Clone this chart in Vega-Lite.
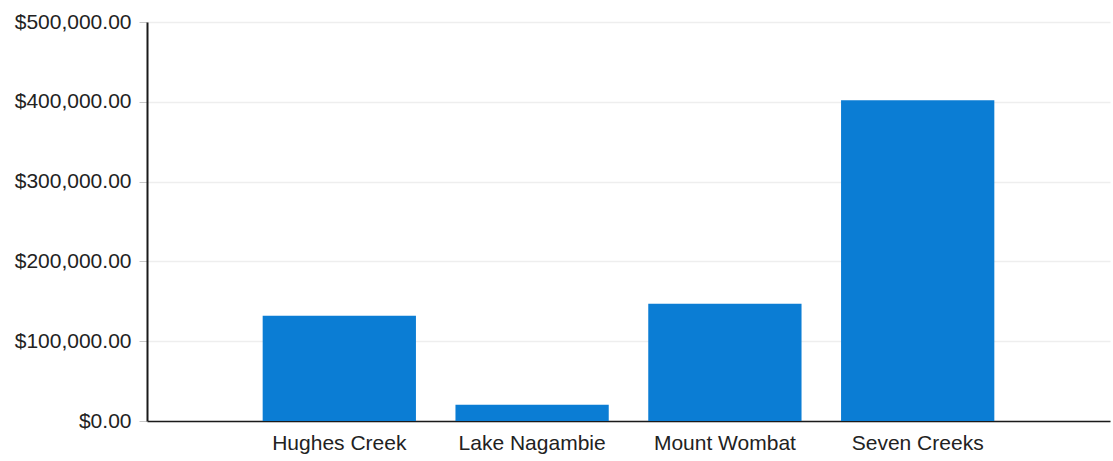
{
  "$schema": "https://vega.github.io/schema/vega-lite/v6.json",
  "width": 963,
  "height": 399,
  "autosize": {"type": "none"},
  "padding": {"left": 147, "top": 22, "right": 3, "bottom": 40},
  "background": "white",
  "config": {"view": {"stroke": null}, "font": "Liberation Sans"},
  "data": {
    "values": [
      {"site": "Hughes Creek", "amount": 132000},
      {"site": "Lake Nagambie", "amount": 20500},
      {"site": "Mount Wombat", "amount": 147000},
      {"site": "Seven Creeks", "amount": 402000}
    ]
  },
  "mark": {"type": "bar", "color": "#0b7dd4"},
  "encoding": {
    "x": {
      "field": "site",
      "type": "nominal",
      "sort": null,
      "scale": {"paddingInner": 0.205, "paddingOuter": 0.6},
      "axis": {
        "title": null,
        "labelAngle": 0,
        "labelFont": "Liberation Sans",
        "labelFontSize": 21,
        "labelColor": "#222222",
        "ticks": false,
        "tickSize": 0,
        "labelPadding": 11,
        "domainColor": "#1a1a1a",
        "domainWidth": 1.5,
        "grid": false
      }
    },
    "y": {
      "field": "amount",
      "type": "quantitative",
      "scale": {"domain": [0, 500000], "nice": false},
      "axis": {
        "title": null,
        "values": [0, 100000, 200000, 300000, 400000, 500000],
        "format": "$,.2f",
        "labelFont": "Liberation Sans",
        "labelFontSize": 21,
        "labelColor": "#222222",
        "tickSize": 8,
        "tickColor": "#c8c8c8",
        "labelPadding": 8,
        "domainColor": "#1a1a1a",
        "domainWidth": 2,
        "grid": true,
        "gridColor": "#eeeeee",
        "gridWidth": 1.5
      }
    }
  }
}
